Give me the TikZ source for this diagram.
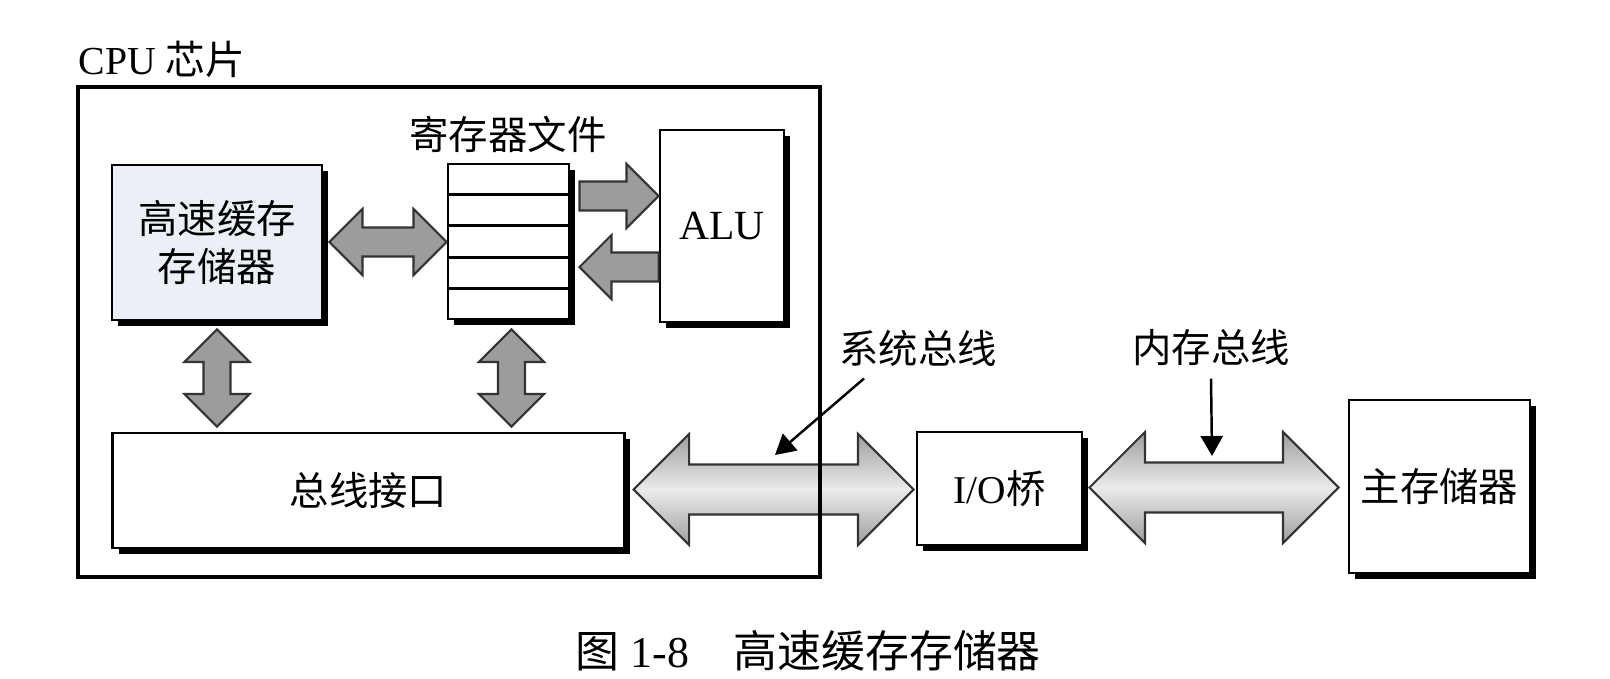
\documentclass[tikz,border=0pt]{standalone}
\usepackage{fontspec}
\setmainfont{Liberation Serif}
\newfontfamily\cjk{Noto Sans CJK SC}
\usetikzlibrary{arrows.meta,shadows,calc}

\definecolor{cachefill}{HTML}{EBF0F6}
\definecolor{armgray}{HTML}{9C9C9C}

\newcommand{\zh}[1]{{\cjk #1}}
% fat double arrow, horizontal: style, from, to, half shaft, half head
\newcommand{\fatboth}[5]{%
  \draw[#1] let \p1=(#2), \p2=(#3), \n1={0.5*(\y1+\y2)} in
    (\x1,\n1) -- (\x1+#5,\n1+#5) -- (\x1+#5,\n1+#4) -- (\x2-#5,\n1+#4)
    -- (\x2-#5,\n1+#5) -- (\x2,\n1) -- (\x2-#5,\n1-#5) -- (\x2-#5,\n1-#4)
    -- (\x1+#5,\n1-#4) -- (\x1+#5,\n1-#5) -- cycle;}
% fat double arrow, vertical: style, top, bottom, half shaft, half head
\newcommand{\fatupdown}[5]{%
  \draw[#1] let \p1=(#2), \p2=(#3) in
    (\x1,\y1) -- (\x1+#5,\y1-#5) -- (\x1+#4,\y1-#5) -- (\x1+#4,\y2+#5)
    -- (\x1+#5,\y2+#5) -- (\x1,\y2) -- (\x1-#5,\y2+#5) -- (\x1-#4,\y2+#5)
    -- (\x1-#4,\y1-#5) -- (\x1-#5,\y1-#5) -- cycle;}
% fat single arrow, horizontal: style, tail, tip, half shaft, half head
\newcommand{\fatone}[5]{%
  \draw[#1] let \p1=(#2), \p2=(#3), \n3={ifthenelse(\x2>\x1,\x2-#5,\x2+#5)} in
    (\x1,\y1+#4) -- (\n3,\y1+#4) -- (\n3,\y1+#5) -- (\x2,\y1)
    -- (\n3,\y1-#5) -- (\n3,\y1-#4) -- (\x1,\y1-#4) -- cycle;}

\begin{document}
\begin{tikzpicture}[x=0.01cm,y=-0.01cm,
  box/.style={draw, line width=0.8pt, fill=white, inner sep=0,
    drop shadow={shadow xshift=0.06cm, shadow yshift=-0.06cm, fill=black, opacity=1}},
  lbl/.style={font=\fontsize{11.2}{13.4}\selectfont},
  fatarm/.style={draw=black!80, line width=0.6pt, fill=armgray},
  fatbus/.style={draw=black!80, line width=0.6pt, top color=black!38,
    bottom color=black!38, middle color=black!8},
  ptr/.style={line width=0.7pt, -{Triangle[length=0.2cm,width=0.22cm]}}]
\useasboundingbox (0,0) rectangle (1610,678);

\node[anchor=west, inner sep=0, font=\fontsize{11.3}{13}\selectfont] (cpulbl) at (78,59) {CPU \zh{芯片}};

% boxes
\node[box, fill=cachefill, minimum width=2.10cm, minimum height=1.55cm, lbl, align=center]
  (cache) at (217,242.5) {\zh{高速缓存}\\\zh{存储器}};
\node[box, minimum width=1.21cm, minimum height=1.55cm] (regfile) at (508.5,241.5) {};
\foreach \k in {1,...,4}
  \draw[line width=0.8pt] ($(regfile.north west)!\k/5!(regfile.south west)$)
    -- ($(regfile.north east)!\k/5!(regfile.south east)$);
\node[lbl] (reglbl) at (508,134) {\zh{寄存器文件}};
\node[box, minimum width=1.24cm, minimum height=1.92cm, font=\fontsize{11.8}{14}\selectfont] (alu) at (722,226) {ALU};
\node[box, minimum width=5.11cm, minimum height=1.15cm, lbl] (businf) at (368.5,490.5) {\zh{总线接口}};
\node[box, minimum width=1.65cm, minimum height=1.13cm, lbl] (iob) at (999.5,488.5) {I/O\zh{桥}};
\node[box, minimum width=1.81cm, minimum height=1.73cm, lbl] (mainmem) at (1439.5,486.5) {\zh{主存储器}};

% gray arrows inside the chip
\fatboth{fatarm}{[xshift=0.06cm]cache.east}{regfile.west}{0.145cm}{0.33cm}
\fatone{fatarm}{[xshift=0.09cm,yshift=0.455cm]regfile.east}{alu.west}{0.145cm}{0.32cm}
\fatone{fatarm}{[yshift=-0.41cm]alu.west}{[xshift=0.09cm]regfile.east}{0.145cm}{0.32cm}
\fatupdown{fatarm}{[yshift=-0.08cm]cache.south}{[yshift=0.05cm]businf.north}{0.135cm}{0.325cm}
\fatupdown{fatarm}{[xshift=0.03cm,yshift=-0.09cm]regfile.south}{[yshift=0.05cm]businf.north}{0.135cm}{0.325cm}

% buses
\fatboth{fatbus}{[xshift=0.08cm]businf.east}{[xshift=-0.02cm]iob.west}{0.25cm}{0.555cm}
\fatboth{fatbus}{[xshift=0.06cm]iob.east}{[xshift=-0.09cm]mainmem.west}{0.25cm}{0.555cm}

\node[minimum width=7.42cm, minimum height=4.90cm, draw, line width=1.2pt] (cpu) at (449,332) {};

\node[lbl] (syslbl) at (918,348) {\zh{系统总线}};
\node[lbl] (memlbl) at (1211,348) {\zh{内存总线}};
\coordinate (systip) at (775,455);
\coordinate (memtip) at (1212,456);
\draw[ptr] ([xshift=-0.54cm]syslbl.south) -- (systip);
\draw[ptr] (memlbl.south) -- (memtip);

\node[anchor=west, inner sep=0, font=\fontsize{12.5}{15}\selectfont] (caption) at (575,651)
  {\zh{图} 1-8\quad\zh{高速缓存存储器}};
\end{tikzpicture}
\end{document}
